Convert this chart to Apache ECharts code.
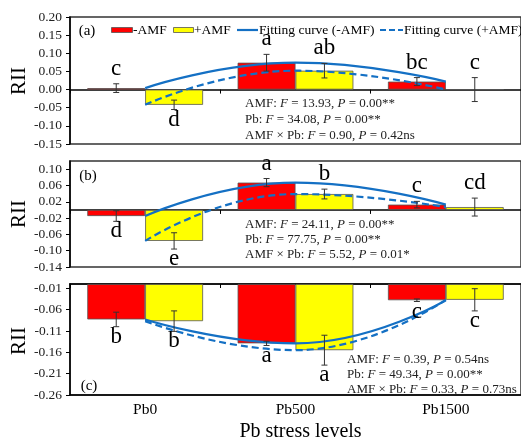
<!DOCTYPE html>
<html><head><meta charset="utf-8">
<script src="https://cdn.jsdelivr.net/npm/echarts@6/dist/echarts.min.js"></script>
<style>html,body{margin:0;padding:0;background:#fff}#c{width:521px;height:443px}</style>
</head><body><div id="c"></div><script>
const categories = ['Pb0', 'Pb500', 'Pb1500'];
// panel (a)
const aMinus = [0.004, 0.074, 0.022];
const aMinusErr = [0.012, 0.023, 0.011];
const aMinusLetters = ['c', 'a', 'bc'];
const aPlus = [-0.042, 0.052, 0.0];
const aPlusErr = [0.013, 0.02, 0.033];
const aPlusLetters = ['d', 'ab', 'c'];
const aTicks = [-0.15, -0.10, -0.05, 0, 0.05, 0.10, 0.15, 0.20];
const aStats = ['AMF: {i|F} = 13.93, {i|P} = 0.00**', 'Pb: {i|F} = 34.08, {i|P} = 0.00**', 'AMF × Pb: {i|F} = 0.90, {i|P} = 0.42ns'];
// panel (b)
const bMinus = [-0.015, 0.067, 0.013];
const bMinusErr = [0.013, 0.010, 0.008];
const bMinusLetters = ['d', 'a', 'c'];
const bPlus = [-0.076, 0.039, 0.007];
const bPlusErr = [0.020, 0.012, 0.022];
const bPlusLetters = ['e', 'b', 'cd'];
const bTicks = [-0.14, -0.10, -0.06, -0.02, 0.02, 0.06, 0.10];
const bStats = ['AMF: {i|F} = 24.11, {i|P} = 0.00**', 'Pb: {i|F} = 77.75, {i|P} = 0.00**', 'AMF × Pb: {i|F} = 5.52, {i|P} = 0.01*'];
// panel (c)
const cMinus = [-0.083, -0.139, -0.038];
const cMinusErr = [0.017, 0.005, 0.003];
const cMinusLetters = ['b', 'a', 'c'];
const cPlus = [-0.087, -0.155, -0.037];
const cPlusErr = [0.024, 0.035, 0.026];
const cPlusLetters = ['b', 'a', 'c'];
const cTicks = [-0.26, -0.21, -0.16, -0.11, -0.06, -0.01];
const cStats = ['AMF: {i|F} = 0.39, {i|P} = 0.54ns', 'Pb: {i|F} = 49.34, {i|P} = 0.00**', 'AMF × Pb: {i|F} = 0.33, {i|P} = 0.73ns'];
const legendNames = ['-AMF', '+AMF', 'Fitting curve (-AMF)', 'Fitting curve (+AMF)'];

const FONT = 'Liberation Serif';
const GAP = 0.23;
const RED = '#FF0000', YEL = '#FFFF00', BLUE = '#1470C4';

const chart = echarts.init(document.getElementById('c'), null, {renderer: 'canvas'});

function yAx(gi, min, max, ticks) {
  return {
    type: 'value', gridIndex: gi, min: min, max: max,
    splitLine: {show: false},
    axisLine: {show: true, lineStyle: {color: '#000', width: 1.5}},
    axisTick: {show: true, length: 4, lineStyle: {color: '#000'}, customValues: ticks},
    axisLabel: {customValues: ticks, margin: 8, fontFamily: FONT, fontSize: 13.5, color: '#222',
      formatter: v => v.toFixed(2)}
  };
}
function xZero(gi) {
  return {
    type: 'category', gridIndex: gi, data: categories,
    axisLine: {onZero: true, lineStyle: {color: '#000', width: 1.5}},
    axisTick: {show: true, length: 4, lineStyle: {color: '#000'}},
    axisLabel: {show: false}
  };
}
function barS(name, xi, vals, color) {
  return {
    name: name, type: 'bar', xAxisIndex: xi, yAxisIndex: xi,
    data: vals, barGap: '0%', barCategoryGap: (GAP * 100) + '%',
    itemStyle: {color: color, borderColor: '#555', borderWidth: 0.8},
    emphasis: {disabled: true}, z: 2
  };
}
function lineS(name, xi, vals, dashed) {
  return {
    name: name, type: 'line', xAxisIndex: xi, yAxisIndex: xi, data: vals,
    smooth: true, symbol: 'none', z: 5,
    lineStyle: {color: BLUE, width: 2.2, type: dashed ? [7, 4] : 'solid'},
    itemStyle: {color: BLUE}, emphasis: {disabled: true}
  };
}
function errS(xi, vals, errs, letters, side) {
  return {
    type: 'custom', xAxisIndex: xi, yAxisIndex: xi, z: 6,
    data: vals.map((v, i) => [i, v, errs[i]]),
    renderItem(params, api) {
      const i = api.value(0), v = api.value(1), e = api.value(2);
      const catW = api.size([1, 0])[0];
      const barW = catW * (1 - GAP) / 2;
      const c = api.coord([i, v]);
      const x = c[0] + side * barW / 2;
      const top = api.coord([i, v + e])[1];
      const bot = api.coord([i, v - e])[1];
      const cap = 3;
      const st = {stroke: '#333', lineWidth: 1};
      const up = v >= 0;
      return {type: 'group', children: [
        {type: 'line', shape: {x1: x, y1: top, x2: x, y2: bot}, style: st},
        {type: 'line', shape: {x1: x - cap, y1: top, x2: x + cap, y2: top}, style: st},
        {type: 'line', shape: {x1: x - cap, y1: bot, x2: x + cap, y2: bot}, style: st},
        {type: 'text', x: x, y: up ? top - 15 : bot + 10,
          style: {text: letters[params.dataIndex], fontFamily: FONT, fontSize: 23, fill: '#000',
            align: 'center', verticalAlign: 'middle'}}
      ]};
    }
  };
}
function stats(x, y, lines, lh) {
  return lines.map((t, k) => ({
    type: 'text', x: x, y: y + k * lh, z: 20,
    style: {text: t, fontFamily: FONT, fontSize: 13, fill: '#222', verticalAlign: 'middle',
      rich: {i: {fontStyle: 'italic', fontFamily: FONT, fontSize: 13, fill: '#222'}}}
  }));
}
function txt(x, y, t, size, rot, align) {
  return {type: 'text', x: x, y: y, rotation: rot || 0, z: 20,
    style: {text: t, fontFamily: FONT, fontSize: size, fill: '#000', align: align || 'center', verticalAlign: 'middle'}};
}
const LY = 30;
const legendG = [
  {type: 'rect', shape: {x: 111.5, y: LY - 2.5, width: 21, height: 5}, style: {fill: RED, stroke: '#555', lineWidth: 0.8}, z: 20},
  txt(133, LY, legendNames[0], 13.5, 0, 'left'),
  {type: 'rect', shape: {x: 173.5, y: LY - 2.5, width: 20, height: 5}, style: {fill: YEL, stroke: '#555', lineWidth: 0.8}, z: 20},
  txt(194, LY, legendNames[1], 13.5, 0, 'left'),
  {type: 'line', shape: {x1: 237, y1: LY, x2: 258, y2: LY}, style: {stroke: BLUE, lineWidth: 2.2}, z: 20},
  txt(259, LY, legendNames[2], 13.5, 0, 'left'),
  {type: 'line', shape: {x1: 380, y1: LY, x2: 403, y2: LY}, style: {stroke: BLUE, lineWidth: 2.2, lineDash: [6, 3]}, z: 20},
  txt(404, LY, legendNames[3], 13.5, 0, 'left')
];

const gridBase = {left: 70, right: -3, show: true, borderColor: '#333', borderWidth: 1.5, backgroundColor: 'transparent'};

const option = {
  animation: false,
  backgroundColor: '#fff',
  grid: [
    Object.assign({}, gridBase, {top: 17, height: 127}),
    Object.assign({}, gridBase, {top: 161, height: 106}),
    Object.assign({}, gridBase, {top: 284, height: 114})
  ],
  xAxis: [
    xZero(0), xZero(1),
    {
      type: 'category', gridIndex: 2, data: categories, position: 'bottom',
      axisLine: {onZero: false, lineStyle: {color: '#000', width: 1.5}},
      axisTick: {show: false},
      axisLabel: {fontFamily: FONT, fontSize: 15.5, color: '#000', margin: 7},
      name: 'Pb stress levels', nameLocation: 'middle', nameGap: 27,
      nameTextStyle: {fontFamily: FONT, fontSize: 20, color: '#000', padding: [0, 0, 0, 10]}
    },
    {
      type: 'category', gridIndex: 2, data: categories, position: 'top',
      axisLine: {onZero: false, lineStyle: {color: '#000', width: 1.5}},
      axisTick: {show: true, inside: true, length: 4, lineStyle: {color: '#000'}},
      axisLabel: {show: false}
    }
  ],
  yAxis: [
    yAx(0, -0.15, 0.20, aTicks),
    yAx(1, -0.14, 0.12, bTicks),
    yAx(2, -0.26, 0, cTicks)
  ],
  series: [
    barS('-AMF', 0, aMinus, RED), barS('+AMF', 0, aPlus, YEL),
    barS('-AMF', 1, bMinus, RED), barS('+AMF', 1, bPlus, YEL),
    barS('-AMF', 2, cMinus, RED), barS('+AMF', 2, cPlus, YEL),
    lineS('Fitting curve (-AMF)', 0, aMinus, false), lineS('Fitting curve (+AMF)', 0, aPlus, true),
    lineS('Fitting curve (-AMF)', 1, bMinus, false), lineS('Fitting curve (+AMF)', 1, bPlus, true),
    lineS('Fitting curve (-AMF)', 2, cMinus, false), lineS('Fitting curve (+AMF)', 2, cPlus, true),
    errS(0, aMinus, aMinusErr, aMinusLetters, -1), errS(0, aPlus, aPlusErr, aPlusLetters, 1),
    errS(1, bMinus, bMinusErr, bMinusLetters, -1), errS(1, bPlus, bPlusErr, bPlusLetters, 1),
    errS(2, cMinus, cMinusErr, cMinusLetters, -1), errS(2, cPlus, cPlusErr, cPlusLetters, 1)
  ],
  graphic: [].concat(
    legendG,
    stats(245, 104, aStats, 16),
    stats(245, 225, bStats, 15),
    stats(347, 360, cStats, 15),
    [txt(87, 31, '(a)', 15), txt(88, 176, '(b)', 15), txt(89, 386, '(c)', 15),
     txt(19, 81, 'RII', 21, Math.PI / 2), txt(19, 214, 'RII', 21, Math.PI / 2), txt(19, 341, 'RII', 21, Math.PI / 2)]
  )
};
chart.setOption(option);
</script></body></html>
